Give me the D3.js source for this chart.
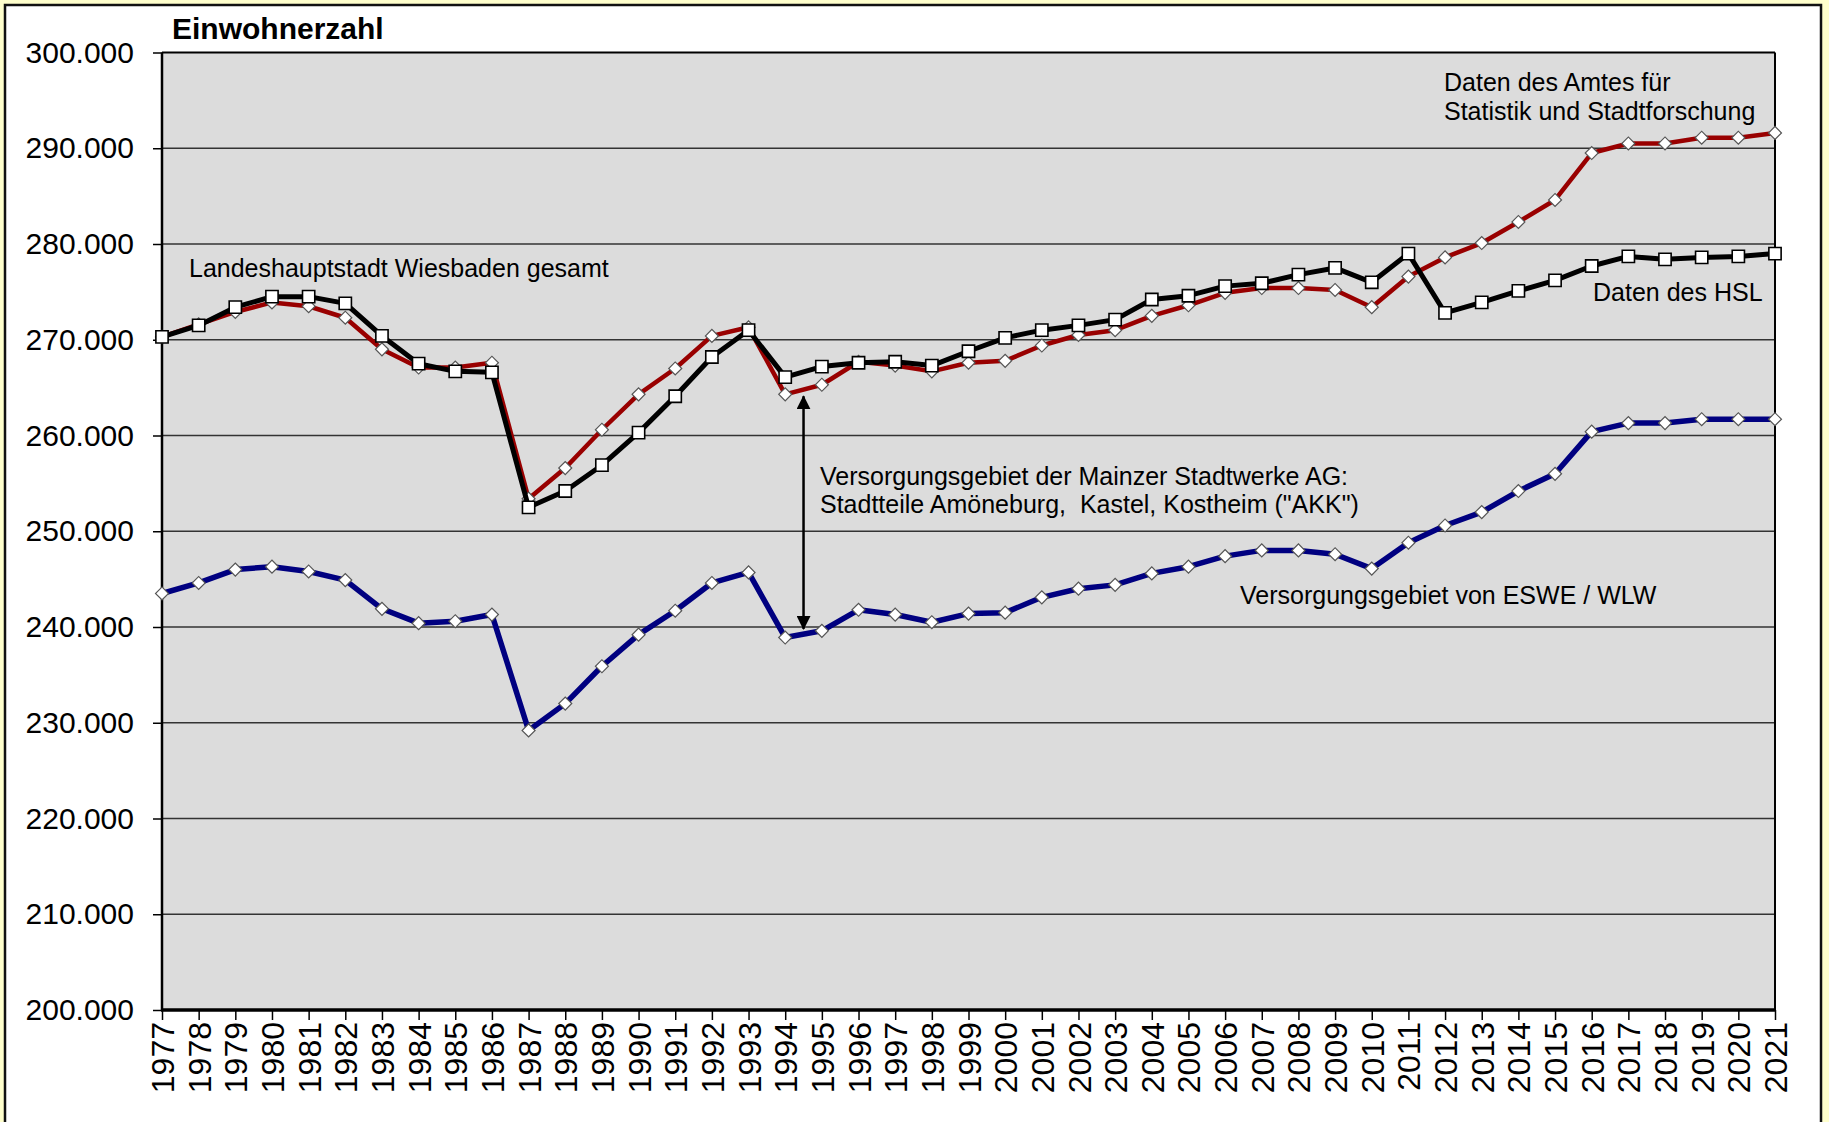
<!DOCTYPE html>
<html>
<head>
<meta charset="utf-8">
<script src="https://cdn.jsdelivr.net/npm/d3@7"></script>
<style>
  body { margin: 0; background: #ffffcc; }
  text { font-family: 'Liberation Sans', Arial, sans-serif; fill: #000; }
</style>
</head>
<body>
<div id="chart"></div>
<script>
// years on the x axis
const years = [1977, 1978, 1979, 1980, 1981, 1982, 1983, 1984, 1985, 1986,
  1987, 1988, 1989, 1990, 1991, 1992, 1993, 1994, 1995, 1996,
  1997, 1998, 1999, 2000, 2001, 2002, 2003, 2004, 2005, 2006,
  2007, 2008, 2009, 2010, 2011, 2012, 2013, 2014, 2015, 2016,
  2017, 2018, 2019, 2020, 2021]

// Daten des Amtes fuer Statistik und Stadtforschung (red)
const amtValues = [270300, 271600, 272900, 273900, 273500, 272300, 269000, 267100, 267100, 267600,
  253400, 256600, 260600, 264300, 267000, 270400, 271300, 264300, 265300, 267700,
  267300, 266700, 267600, 267800, 269400, 270500, 271000, 272500, 273600, 274900,
  275400, 275400, 275200, 273400, 276600, 278600, 280100, 282300, 284600, 289500,
  290500, 290500, 291100, 291100, 291600]

// Daten des HSL (black)
const hslValues = [270300, 271500, 273400, 274500, 274500, 273800, 270400, 267500, 266700, 266600,
  252500, 254200, 256900, 260300, 264100, 268200, 271000, 266100, 267200, 267600,
  267700, 267300, 268800, 270200, 271000, 271500, 272100, 274200, 274600, 275600,
  275900, 276800, 277500, 276000, 279000, 272800, 273900, 275100, 276200, 277700,
  278700, 278400, 278600, 278700, 279000]

// Versorgungsgebiet von ESWE / WLW (blue)
const esweValues = [243500, 244600, 246000, 246300, 245800, 244900, 241900, 240400, 240600, 241300,
  229200, 232000, 235900, 239200, 241700, 244600, 245700, 238900, 239600, 241800,
  241300, 240500, 241400, 241500, 243100, 244000, 244400, 245600, 246300, 247400,
  248000, 248000, 247600, 246100, 248800, 250600, 252000, 254200, 256000, 260400,
  261300, 261300, 261700, 261700, 261700]

const yTicks = [200000, 210000, 220000, 230000, 240000, 250000, 260000, 270000, 280000, 290000, 300000]

// the AKK gap marked by the double arrow (1994/95)
const arrowSpan = [264100, 239800]

// set the dimensions and margins of the graph
const svgWidth = 1829
const svgHeight = 1122
const margin = { top: 52.5, right: 54, bottom: 112, left: 162 }
const width = svgWidth - margin.left - margin.right
const height = svgHeight - margin.top - margin.bottom

const de = d3.formatLocale({ decimal: ',', thousands: '.', grouping: [3], currency: ['', ' €'] })
const fmt = de.format(',d')

const root = d3.select('#chart')
  .append('svg')
  .attr('width', svgWidth)
  .attr('height', svgHeight)

const defs = root.append('defs')
defs.append('marker')
  .attr('id', 'arrowhead')
  .attr('viewBox', '0 0 14 14')
  .attr('refX', 13)
  .attr('refY', 7)
  .attr('markerWidth', 14)
  .attr('markerHeight', 14)
  .attr('markerUnits', 'userSpaceOnUse')
  .attr('orient', 'auto-start-reverse')
  .append('path')
  .attr('d', 'M0,0 L14,7 L0,14 Z')
  .attr('fill', '#000')

// white sheet with frame
root.append('rect')
  .attr('x', 5)
  .attr('y', 5)
  .attr('width', 1816)
  .attr('height', 1140)
  .attr('fill', '#fff')
  .attr('stroke', '#111')
  .attr('stroke-width', 2.5)

const svg = root.append('g')
  .attr('transform', 'translate(' + margin.left + ',' + margin.top + ')')

const x = d3.scalePoint()
  .domain(years)
  .range([0, width])

const y = d3.scaleLinear()
  .domain([200000, 300000])
  .range([height, 0])

// plot background
svg.append('rect')
  .attr('width', width)
  .attr('height', height)
  .attr('fill', '#dcdcdc')

// horizontal gridlines
svg.append('g')
  .selectAll('line')
  .data(yTicks.slice(1, -1))
  .enter()
  .append('line')
  .attr('x1', 0)
  .attr('x2', width)
  .attr('y1', function (d) { return y(d) })
  .attr('y2', function (d) { return y(d) })
  .attr('stroke', '#333')
  .attr('stroke-width', 1.5)

// Y axis
const yAxis = svg.append('g')
  .call(d3.axisLeft(y).tickValues(yTicks).tickFormat(fmt).tickSize(9).tickPadding(19))
yAxis.select('.domain').remove()
yAxis.selectAll('line').attr('stroke', '#000').attr('stroke-width', 1.5)
yAxis.selectAll('text')
  .style('font-size', '30px')
  .attr('fill', '#000')

// X axis
const xAxis = svg.append('g')
  .attr('transform', 'translate(0,' + height + ')')
  .call(d3.axisBottom(x).tickSize(10))
xAxis.select('.domain').remove()
xAxis.selectAll('line').attr('stroke', '#000').attr('stroke-width', 1.5)
xAxis.selectAll('text')
  .attr('transform', 'rotate(-90)')
  .attr('x', -12)
  .attr('y', 0)
  .attr('dy', '0.36em')
  .attr('text-anchor', 'end')
  .style('font-size', '32px')
  .attr('fill', '#000')

// plot frame
svg.append('line').attr('x1', 0).attr('x2', width).attr('y1', 0).attr('y2', 0)
  .attr('stroke', '#000').attr('stroke-width', 2)
svg.append('line').attr('x1', width).attr('x2', width).attr('y1', 0).attr('y2', height)
  .attr('stroke', '#000').attr('stroke-width', 2)
svg.append('line').attr('x1', 0).attr('x2', 0).attr('y1', 0).attr('y2', height + 1)
  .attr('stroke', '#000').attr('stroke-width', 2.5)
svg.append('line').attr('x1', -1).attr('x2', width + 1).attr('y1', height).attr('y2', height)
  .attr('stroke', '#000').attr('stroke-width', 3.5)

const line = d3.line()
  .x(function (d, i) { return x(years[i]) })
  .y(function (d) { return y(d) })

const diamond = d3.symbol().type(d3.symbolSquare).size(84)
const square = d3.symbol().type(d3.symbolSquare).size(150)

function drawSeries (values, color, lineWidth, marker) {
  const g = svg.append('g')
  g.append('path')
    .datum(values)
    .attr('fill', 'none')
    .attr('stroke', color)
    .attr('stroke-width', lineWidth)
    .attr('stroke-linejoin', 'round')
    .attr('d', line)
  g.selectAll('path.marker')
    .data(values)
    .enter()
    .append('path')
    .attr('class', 'marker')
    .attr('d', marker === 'square' ? square : diamond)
    .attr('transform', function (d, i) {
      return 'translate(' + x(years[i]) + ',' + y(d) + ')' + (marker === 'square' ? '' : ' rotate(45)')
    })
    .attr('fill', '#fff')
    .attr('stroke', marker === 'square' ? '#000' : '#555')
    .attr('stroke-width', marker === 'square' ? 1.6 : 1.2)
}

drawSeries(amtValues, '#990000', 4.5, 'diamond')
drawSeries(hslValues, '#000', 5, 'square')
drawSeries(esweValues, '#000080', 5.5, 'diamond')

// double arrow between Wiesbaden total and ESWE area
const arrowX = (x(1994) + x(1995)) / 2
svg.append('line')
  .attr('x1', arrowX)
  .attr('x2', arrowX)
  .attr('y1', y(arrowSpan[0]))
  .attr('y2', y(arrowSpan[1]))
  .attr('stroke', '#000')
  .attr('stroke-width', 2.5)
  .attr('marker-start', 'url(#arrowhead)')
  .attr('marker-end', 'url(#arrowhead)')

// title and labels
root.append('text')
  .attr('x', 172)
  .attr('y', 39)
  .style('font-size', '30px')
  .style('font-weight', 'bold')
  .text('Einwohnerzahl')

const notes = [
  { text: 'Landeshauptstadt Wiesbaden gesamt', x: 189, y: 277 },
  { text: 'Daten des Amtes für', x: 1444, y: 91 },
  { text: 'Statistik und Stadtforschung', x: 1444, y: 120 },
  { text: 'Daten des HSL', x: 1593, y: 301 },
  { text: 'Versorgungsgebiet der Mainzer Stadtwerke AG:', x: 820, y: 485 },
  { text: 'Stadtteile Amöneburg,  Kastel, Kostheim ("AKK")', x: 820, y: 513 },
  { text: 'Versorgungsgebiet von ESWE / WLW', x: 1240, y: 604 }
]
root.append('g')
  .selectAll('text')
  .data(notes)
  .enter()
  .append('text')
  .attr('x', function (d) { return d.x })
  .attr('y', function (d) { return d.y })
  .style('font-size', '25px')
  .style('white-space', 'pre')
  .text(function (d) { return d.text })
</script>
</body>
</html>
